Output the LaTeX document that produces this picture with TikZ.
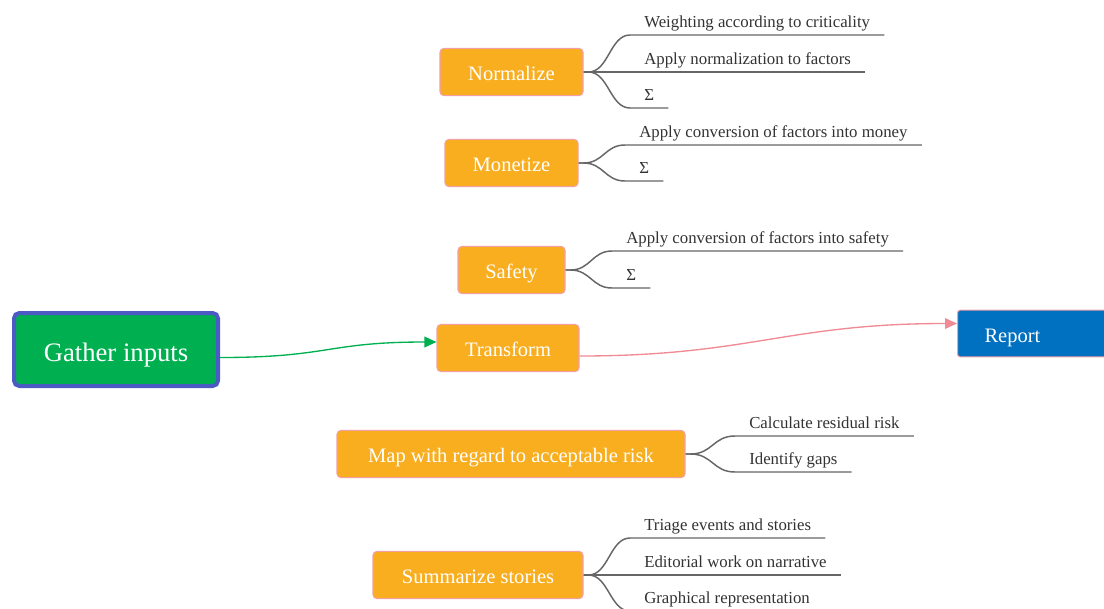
\documentclass[tikz,border=0pt]{standalone}
\usepackage{fontspec}
\setmainfont{Liberation Serif}
\usetikzlibrary{arrows.meta,calc}
\definecolor{orng}{HTML}{F8AE1F}
\definecolor{pinkb}{HTML}{F2A0A6}
\definecolor{grn}{HTML}{00B050}
\definecolor{bluebord}{HTML}{4A5BC4}
\definecolor{rptblue}{HTML}{0070C0}
\definecolor{branchgray}{HTML}{666666}
\definecolor{leaftext}{HTML}{333333}
\definecolor{pinkarrow}{HTML}{F08A95}
\begin{document}
\begin{tikzpicture}[x=0.75pt,y=-0.75pt,
  topic/.style={rectangle, rounded corners=3pt, fill=orng, draw=pinkb, line width=0.8pt,
    text=white, font=\fontsize{15.4}{18}\selectfont, minimum height=35.4pt, inner sep=0pt,
    text height=12.3pt, text depth=0pt},
  rootbox/.style={rectangle, rounded corners=4pt, fill=grn, draw=bluebord, line width=3pt,
    text=white, font=\fontsize{20}{24}\selectfont, minimum width=153pt, minimum height=54.75pt,
    text height=17.5pt, text depth=0pt},
  reportbox/.style={rectangle, rounded corners=2pt, fill=rptblue, draw=pinkb, line width=0.8pt,
    text=white, font=\fontsize{15.4}{18}\selectfont, minimum height=35pt, anchor=west,
    inner xsep=20.25pt, text width=83.25pt, align=left, text height=12.8pt, text depth=0pt},
  leaf/.style={anchor=south west, inner xsep=10.5pt, inner ysep=5.4pt, text depth=0pt,
    text=leaftext, font=\fontsize{12.6}{15}\selectfont},
  branch/.style={draw=branchgray, line width=1.1pt},
  flowgreen/.style={draw=grn, line width=1pt, -{Triangle[length=9pt,width=8pt]}},
  flowpink/.style={draw=pinkarrow, line width=1pt, -{Triangle[length=9pt,width=8pt]}}
]
\useasboundingbox (0,0) rectangle (1104,608);
\fill[white] (0,0) rectangle (1104,608);
\clip (0,0) rectangle (1104,608);

% main flow
\node[rootbox] (g) at (116,349.5) {Gather inputs};
\node[topic, minimum width=106.5pt] (t) at (508,348) {Transform};
\node[reportbox] (r) at (957,333.5) {Report};

\draw[flowgreen] ($(g.east)+(0,8)$) .. controls +(110,0) and +(-110,0) .. ($(t.west)+(0,-6)$);
\draw[flowpink] ($(t.east)+(0,8)$) .. controls +(170,0) and +(-170,0) .. ($(r.west)+(0,-10)$);

% topics
\node[topic, minimum width=107.25pt] (nrm) at (511.5,72) {Normalize};
\node[topic, minimum width=99.75pt] (mon) at (511.5,163) {Monetize};
\node[topic, minimum width=80.25pt] (saf) at (511.5,270) {Safety};
\node[topic, minimum width=261pt] (map) at (511,454) {Map with regard to acceptable risk};
\node[topic, minimum width=157.5pt] (sum) at (478,575) {Summarize stories};

% leaves
\node[leaf] (n1) at (630,35) {Weighting according to criticality};
\node[leaf] (n2) at (630,72) {Apply normalization to factors};
\node[leaf] (n3) at (630,108) {Σ};
\node[leaf] (m1) at (625,145) {Apply conversion of factors into money};
\node[leaf] (m2) at (625,181) {Σ};
\node[leaf] (s1) at (612,251) {Apply conversion of factors into safety};
\node[leaf] (s2) at (612,288) {Σ};
\node[leaf] (a1) at (735,436) {Calculate residual risk};
\node[leaf] (a2) at (735,472) {Identify gaps};
\node[leaf] (u1) at (630,538) {Triage events and stories};
\node[leaf] (u2) at (630,575) {Editorial work on narrative};
\node[leaf] (u3) at (630,611) {Graphical representation};

% branches
\draw[branch] (nrm.east) -- ++(5,0) .. controls +(20,0) and +(-20,0) .. (n1.south west) -- (n1.south east);
\draw[branch] (nrm.east) -- (n2.south west) -- (n2.south east);
\draw[branch] (nrm.east) -- ++(5,0) .. controls +(20,0) and +(-20,0) .. (n3.south west) -- (n3.south east);
\draw[branch] (mon.east) -- ++(5,0) .. controls +(20,0) and +(-20,0) .. (m1.south west) -- (m1.south east);
\draw[branch] (mon.east) -- ++(5,0) .. controls +(20,0) and +(-20,0) .. (m2.south west) -- (m2.south east);
\draw[branch] (saf.east) -- ++(5,0) .. controls +(20,0) and +(-20,0) .. (s1.south west) -- (s1.south east);
\draw[branch] (saf.east) -- ++(5,0) .. controls +(20,0) and +(-20,0) .. (s2.south west) -- (s2.south east);
\draw[branch] (map.east) -- ++(5,0) .. controls +(22,0) and +(-22,0) .. (a1.south west) -- (a1.south east);
\draw[branch] (map.east) -- ++(5,0) .. controls +(22,0) and +(-22,0) .. (a2.south west) -- (a2.south east);
\draw[branch] (sum.east) -- ++(5,0) .. controls +(20,0) and +(-20,0) .. (u1.south west) -- (u1.south east);
\draw[branch] (sum.east) -- (u2.south west) -- (u2.south east);
\draw[branch] (sum.east) -- ++(5,0) .. controls +(20,0) and +(-20,0) .. (u3.south west) -- (u3.south east);
\end{tikzpicture}
\end{document}
